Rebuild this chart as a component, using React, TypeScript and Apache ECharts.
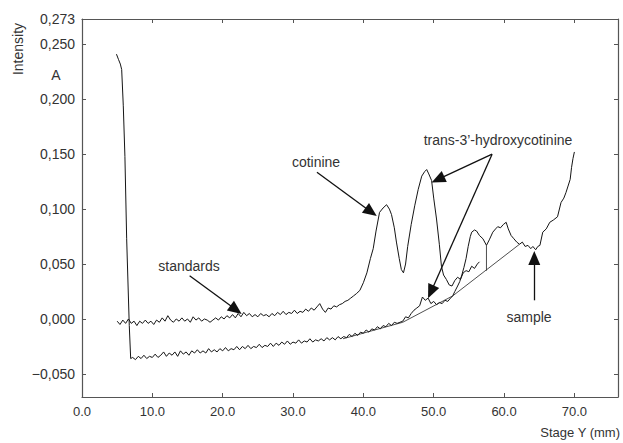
import React, { useEffect, useRef } from 'react';
import * as echarts from 'echarts';

const xTickValues = [0, 10, 20, 30, 40, 50, 60, 70];
const yTickValues = [-0.05, 0, 0.05, 0.1, 0.15, 0.2, 0.25];
const yLabelValues = [-0.05, 0, 0.05, 0.1, 0.15, 0.2, 0.25, 0.273];

const standards: [number, number][] = [
  [5.0, -0.002], [5.4, -0.005], [5.8, -0.001], [6.2, -0.004], [6.6, 0.0], [7.0, -0.004], [7.4, -0.002], [7.8, -0.006],
  [8.2, -0.002], [8.6, -0.004], [9.0, -0.001], [9.4, -0.004], [9.8, -0.002], [10.2, -0.005], [10.6, -0.001], [11.0, -0.003],
  [11.4, 0.001], [11.8, -0.002], [12.2, 0.003], [12.6, -0.001], [13.0, -0.003], [13.4, 0.0], [13.8, -0.002], [14.2, 0.001],
  [14.6, -0.002], [15.0, 0.0], [15.4, -0.003], [15.8, 0.002], [16.2, -0.001], [16.6, 0.001], [17.0, -0.002], [17.4, 0.0],
  [17.8, -0.001], [18.2, -0.003], [18.6, -0.001], [19.0, 0.001], [19.4, -0.001], [19.8, 0.002], [20.2, 0.0], [20.6, 0.003],
  [21.0, 0.001], [21.4, 0.004], [21.8, 0.001], [22.2, 0.005], [22.6, 0.002], [23.0, 0.006], [23.4, 0.003], [23.8, 0.005],
  [24.2, 0.002], [24.6, 0.004], [25.0, 0.002], [25.4, 0.005], [25.8, 0.003], [26.2, 0.004], [26.6, 0.002], [27.0, 0.005],
  [27.4, 0.003], [27.8, 0.006], [28.2, 0.004], [28.6, 0.007], [29.0, 0.004], [29.4, 0.006], [29.8, 0.005], [30.2, 0.008],
  [30.6, 0.005], [31.0, 0.007], [31.4, 0.006], [31.8, 0.009], [32.2, 0.007], [32.6, 0.01], [33.0, 0.008], [33.4, 0.011],
  [33.8, 0.014], [34.2, 0.009], [34.6, 0.006], [35.0, 0.01], [35.4, 0.009], [35.8, 0.012], [36.2, 0.011], [36.6, 0.013],
  [37.0, 0.014], [37.4, 0.016], [37.8, 0.017], [38.2, 0.019], [38.6, 0.021], [39.0, 0.023], [39.5, 0.026],
  [40.0, 0.033], [40.5, 0.042], [41.0, 0.055], [41.4, 0.064], [41.8, 0.08], [42.3, 0.097], [42.8, 0.101], [43.3, 0.104],
  [43.7, 0.1], [44.0, 0.095], [44.4, 0.083], [44.7, 0.07], [45.1, 0.055], [45.4, 0.045], [45.7, 0.042], [46.0, 0.05],
  [46.3, 0.066], [46.8, 0.086], [47.3, 0.103], [47.8, 0.118], [48.3, 0.13], [48.7, 0.134], [49.0, 0.136], [49.3, 0.132],
  [49.7, 0.126], [50.0, 0.11], [50.4, 0.091], [50.8, 0.068], [51.1, 0.048], [51.4, 0.04], [51.8, 0.036], [52.2, 0.031],
  [52.6, 0.03], [53.0, 0.035], [53.4, 0.038], [53.8, 0.036], [54.2, 0.042], [54.6, 0.044], [55.0, 0.043], [55.4, 0.048],
  [55.8, 0.046], [56.2, 0.05], [56.5, 0.052],
];

const sample: [number, number][] = [
  [4.9, 0.241], [5.2, 0.236], [5.45, 0.232], [5.64, 0.227], [5.87, 0.194], [6.1, 0.148], [6.35, 0.073], [6.72, -0.006],
  [6.92, -0.036], [7.2, -0.035], [7.6, -0.037], [8.0, -0.034], [8.4, -0.036], [8.8, -0.033], [9.2, -0.036], [9.6, -0.034],
  [10.0, -0.035], [10.4, -0.032], [10.8, -0.035], [11.2, -0.033], [11.6, -0.03], [12.0, -0.034], [12.4, -0.031], [12.8, -0.033],
  [13.2, -0.03], [13.6, -0.034], [14.0, -0.029], [14.4, -0.032], [14.8, -0.03], [15.2, -0.033], [15.6, -0.029], [16.0, -0.031],
  [16.4, -0.028], [16.8, -0.031], [17.2, -0.029], [17.6, -0.031], [18.0, -0.027], [18.4, -0.03], [18.8, -0.028], [19.2, -0.03],
  [19.6, -0.027], [20.0, -0.029], [20.4, -0.026], [20.8, -0.029], [21.2, -0.027], [21.6, -0.028], [22.0, -0.025], [22.4, -0.028],
  [22.8, -0.025], [23.2, -0.027], [23.6, -0.024], [24.0, -0.027], [24.4, -0.025], [24.8, -0.026], [25.2, -0.023], [25.6, -0.026],
  [26.0, -0.024], [26.4, -0.025], [26.8, -0.022], [27.2, -0.025], [27.6, -0.022], [28.0, -0.024], [28.4, -0.021], [28.8, -0.023],
  [29.2, -0.02], [29.6, -0.023], [30.0, -0.021], [30.4, -0.022], [30.8, -0.019], [31.2, -0.022], [31.6, -0.02], [32.0, -0.021],
  [32.4, -0.018], [32.8, -0.021], [33.2, -0.019], [33.6, -0.02], [34.0, -0.018], [34.4, -0.02], [34.8, -0.017], [35.2, -0.019],
  [35.6, -0.017], [36.0, -0.019], [36.4, -0.016], [36.8, -0.018], [37.2, -0.016], [37.6, -0.017], [38.0, -0.014], [38.4, -0.016],
  [38.8, -0.013], [39.2, -0.015], [39.6, -0.012], [40.0, -0.013], [40.4, -0.01], [40.8, -0.012], [41.2, -0.009], [41.6, -0.01],
  [42.0, -0.007], [42.4, -0.009], [42.8, -0.006], [43.2, -0.007], [43.6, -0.004], [44.0, -0.006], [44.4, -0.003], [44.8, -0.004],
  [45.2, -0.003], [45.6, -0.002], [46.0, 0.002], [46.4, 0.001], [46.8, 0.005], [47.2, 0.008], [47.6, 0.01], [48.0, 0.012],
  [48.4, 0.02], [48.8, 0.017], [49.2, 0.019], [49.6, 0.014], [50.0, 0.016], [50.4, 0.013], [50.8, 0.015], [51.2, 0.014],
  [51.6, 0.017], [52.0, 0.016], [52.4, 0.019], [52.7, 0.021], [53.0, 0.025], [53.4, 0.03], [53.7, 0.034], [54.0, 0.04],
  [54.3, 0.047], [54.6, 0.055], [54.9, 0.066], [55.2, 0.075], [55.4, 0.079], [55.8, 0.081], [56.1, 0.08], [56.5, 0.076],
  [57.0, 0.073], [57.5, 0.067], [57.9, 0.072], [58.4, 0.079], [58.8, 0.082], [59.1, 0.084], [59.5, 0.083], [59.9, 0.086],
  [60.3, 0.088], [60.6, 0.082], [61.0, 0.076], [61.4, 0.073], [61.8, 0.07], [62.2, 0.068], [62.6, 0.07], [63.0, 0.066],
  [63.4, 0.067], [63.8, 0.064], [64.1, 0.066], [64.5, 0.063], [64.8, 0.066], [65.1, 0.067], [65.5, 0.079], [66.0, 0.082],
  [66.5, 0.088], [67.0, 0.09], [67.6, 0.093], [68.1, 0.106], [68.5, 0.11], [68.8, 0.115], [69.1, 0.121], [69.4, 0.127],
  [69.6, 0.138], [69.8, 0.146], [70.0, 0.152],
];

const baseline: [number, number][] = [[37.1, -0.018], [45.6, -0.003], [52.7, 0.021], [62.2, 0.068]];
const dropLine: [number, number][] = [[57.5, 0.044], [57.5, 0.067]];

// arrow start -> arrowhead centre (data coordinates)
const arrows: [[number, number], [number, number]][] = [
  [[33.4, 0.1336], [41.1, 0.0974]],
  [[15.3, 0.0394], [21.9, 0.0084]],
  [[58.3, 0.15], [50.6, 0.127]],
  [[58.3, 0.15], [49.6, 0.0246]],
  [[64.3, 0.017], [64.3, 0.0555]],
];

const annotationTexts = ['cotinine', 'trans-3\u2019-hydroxycotinine', 'standards', 'sample'];

const FONT = "'Liberation Sans', Arial, sans-serif";
const TEXT = '#333';
const AXIS = '#555';

export default function App() {
  const ref = useRef<HTMLDivElement>(null);
  useEffect(() => {
    if (!ref.current) return;
    const chart = echarts.init(ref.current, null, { renderer: 'svg' });
    const fmtY = (v: number) => {
      const s = Math.abs(v).toFixed(3).replace('.', ',');
      return v < -1e-9 ? '\u2212' + s : s;
    };
    const axisLine = { show: true, onZero: false, lineStyle: { color: AXIS, width: 1.2 } };
    const annPos = [
      [316, 162],
      [498, 140],
      [189, 266],
      [529, 317],
    ];
    chart.setOption({
      animation: false,
      grid: { left: 82, right: 5, top: 19, bottom: 46, containLabel: false },
      xAxis: [
        {
          type: 'value', min: 0, max: 76.2, interval: 10, position: 'bottom',
          axisLine, splitLine: { show: false },
          axisTick: { show: true, inside: true, length: 4, lineStyle: { color: AXIS }, customValues: xTickValues },
          axisLabel: {
            customValues: xTickValues, margin: 8, fontSize: 13, color: TEXT, fontFamily: FONT,
            formatter: (v: number) => v.toFixed(1),
          },
        },
        {
          type: 'value', min: 0, max: 76.2, interval: 10, position: 'top',
          axisLine, splitLine: { show: false },
          axisTick: { show: true, inside: true, length: 4, lineStyle: { color: AXIS }, customValues: xTickValues },
          axisLabel: { show: false },
        },
      ],
      yAxis: [
        {
          type: 'value', min: -0.071, max: 0.273, position: 'left',
          axisLine, splitLine: { show: false },
          axisTick: { show: true, inside: true, length: 4, lineStyle: { color: AXIS }, customValues: yTickValues },
          axisLabel: {
            customValues: yLabelValues, margin: 7, fontSize: 14, color: TEXT, fontFamily: FONT,
            formatter: fmtY,
          },
        },
        {
          type: 'value', min: -0.071, max: 0.273, position: 'right',
          axisLine, splitLine: { show: false },
          axisTick: { show: true, inside: true, length: 4, lineStyle: { color: AXIS }, customValues: yTickValues },
          axisLabel: { show: false },
        },
      ],
      series: [
        {
          type: 'line', name: 'standards', data: standards, showSymbol: false, symbol: 'none',
          lineStyle: { color: '#151515', width: 1 }, silent: true,
        },
        {
          type: 'line', name: 'sample', data: sample, showSymbol: false, symbol: 'none',
          lineStyle: { color: '#151515', width: 1 }, silent: true,
        },
        {
          type: 'line', name: 'baseline', data: baseline, showSymbol: false, symbol: 'none',
          lineStyle: { color: '#222', width: 0.8 }, silent: true,
          markLine: {
            silent: true,
            symbol: ['none', 'triangle'],
            symbolSize: [12, 14],
            label: { show: false },
            emphasis: { disabled: true },
            lineStyle: { color: '#111', width: 1.3, type: 'solid' },
            data: arrows.map(([a, b]) => [{ coord: a }, { coord: b }]),
          },
        },
        {
          type: 'line', name: 'drop', data: dropLine, showSymbol: false, symbol: 'none',
          lineStyle: { color: '#222', width: 0.8 }, silent: true,
        },
      ],
      graphic: [
        {
          type: 'text', x: 18, y: 49, rotation: Math.PI / 2,
          style: { text: 'Intensity', fontSize: 14, fontFamily: FONT, fill: TEXT, align: 'center', verticalAlign: 'middle' },
        },
        {
          type: 'text', x: 56, y: 75,
          style: { text: 'A', fontSize: 14, fontFamily: FONT, fill: TEXT, align: 'center', verticalAlign: 'middle' },
        },
        {
          type: 'text', x: 620, y: 432,
          style: { text: 'Stage Y (mm)', fontSize: 13, fontFamily: FONT, fill: TEXT, align: 'right', verticalAlign: 'middle' },
        },
        ...annotationTexts.map((t, i) => ({
          type: 'text', x: annPos[i][0], y: annPos[i][1],
          style: { text: t, fontSize: 14, fontFamily: FONT, fill: TEXT, align: 'center', verticalAlign: 'middle' },
        })),
      ],
    });
    return () => chart.dispose();
  }, []);
  return <div ref={ref} style={{ position: 'fixed', left: 0, top: 0, width: 623, height: 443, background: '#fff' }} />;
}
